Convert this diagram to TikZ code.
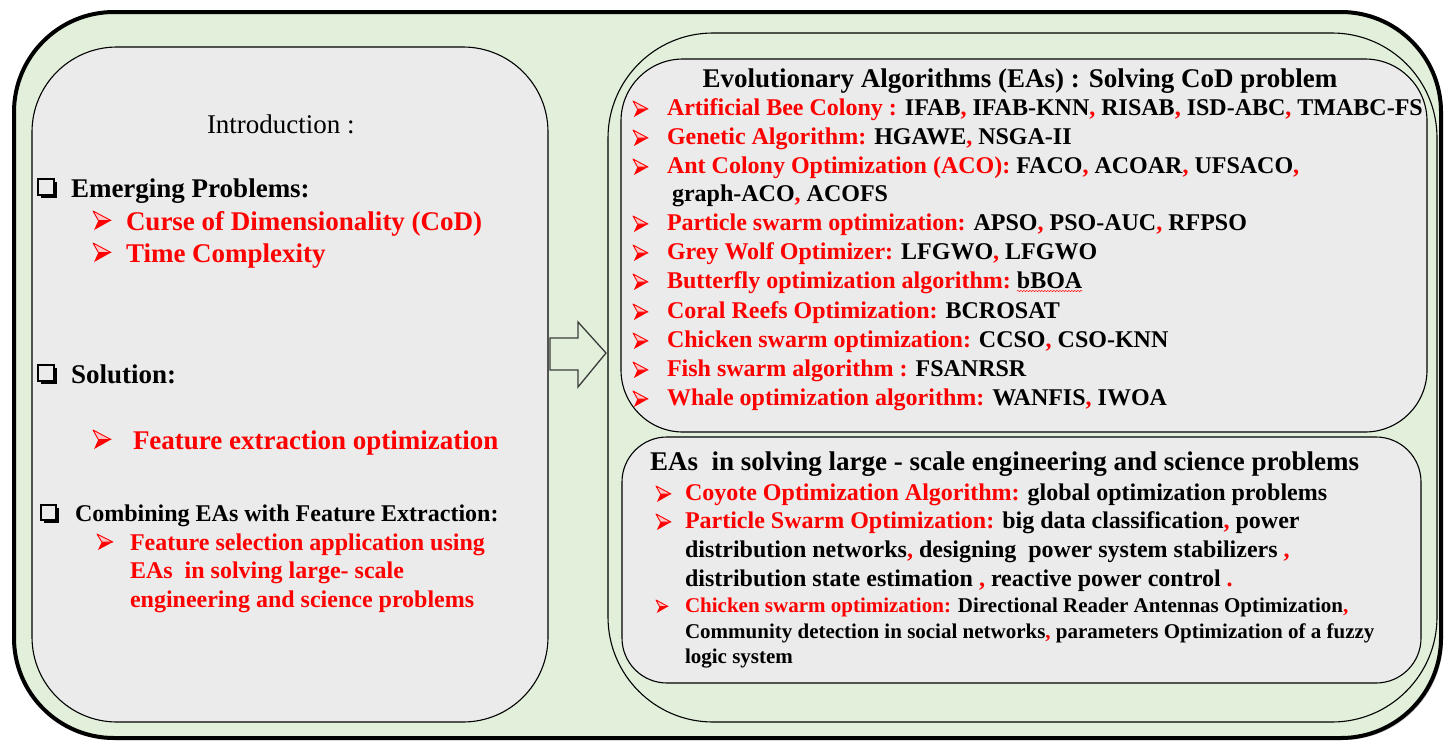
\documentclass[tikz,border=0pt]{standalone}
\usepackage{fontspec}
\setmainfont{Liberation Serif}
\usetikzlibrary{shadows,decorations.pathmorphing}

\definecolor{panelgreen}{HTML}{E2EFDA}
\definecolor{panelgray}{HTML}{EBEBEB}
\definecolor{hlred}{HTML}{FF0000}
\definecolor{arrowline}{HTML}{3A3A3A}

\newcommand\fsz[1]{\fontsize{#1}{#1}\selectfont}
\newcommand\rc[1]{\textcolor{hlred}{#1}}
\newcommand\cm{\textcolor{hlred}{,}}

% 3D arrowhead bullet: name, left x, top y, width, height
\newcommand\arrowbullet[5]{%
  \coordinate (#1) at (#2,#3);
  \begin{scope}[shift={(#1)}, x=#4pt, y=-#5pt]
    \fill[hlred] (0.30,0.5) -- (1,0.5) -- (0.06,1) -- cycle;
    \filldraw[draw=hlred, fill=hlred!22, line width=0.9pt, line join=round]
      (0,0) -- (1,0.5) -- (0.30,0.5) -- cycle;
  \end{scope}}

% shadowed check box: name, left x, top y, side
\newcommand\shadowbox[4]{%
  \coordinate (#1) at (#2,#3);
  \begin{scope}[shift={(#1)}]
    \fill[black] (2.5,2.5) rectangle (#4+2.5,#4+2.5);
    \filldraw[draw=black, fill=panelgray, line width=1.1pt] (0,0) rectangle (#4,#4);
  \end{scope}}

\tikzset{
  panel/.style={draw=black, line width=1.1pt, inner sep=0pt, outer sep=0pt},
  txt/.style={anchor=base west, inner sep=0pt, outer sep=0pt, text=black},
  big/.style={txt, font=\fsz{27}\bfseries},
  mid/.style={txt, font=\fsz{24}\bfseries},
  small/.style={txt, font=\fsz{21}\bfseries},
  plain/.style={txt, font=\fsz{27}},
  red/.style={text=hlred},
}

\begin{document}
\begin{tikzpicture}[x=1pt, y=-1pt]
\useasboundingbox (0,0) rectangle (1445,742);

% frame
\node[panel, line width=4pt, fill=panelgreen, rounded corners=100pt,
      minimum width=1427pt, minimum height=726pt,
      drop shadow={shadow xshift=2pt, shadow yshift=-2pt, opacity=.45}]
      (frame) at (727.5,375) {};

% left panel
\node[panel, fill=panelgray, rounded corners=85pt,
      minimum width=516pt, minimum height=675pt] (left) at (290,384.5) {};

% right container and its two panels
\node[panel, fill=panelgreen, rounded corners=105pt,
      minimum width=829pt, minimum height=689pt] (right) at (1022.5,377.5) {};
\node[panel, fill=panelgray, rounded corners=62pt,
      minimum width=806pt, minimum height=373pt] (top) at (1024,245.5) {};
\node[panel, fill=panelgray, rounded corners=45pt,
      minimum width=799pt, minimum height=246pt] (bottom) at (1021.5,560) {};

% block arrow between the panels
\draw[draw=arrowline, line width=1.3pt, fill=panelgreen, line join=miter]
  (550,338) -- (578,338) -- (578,322) -- (606,353) -- (578,387)
  -- (578,370) -- (550,370) -- cycle;

% ---- left panel text
\node[plain] (intro) at (207,133) {Introduction :};

\shadowbox{c1}{38}{179}{16}
\node[big] (emp) at (71,197) {Emerging Problems:};
\arrowbullet{a1}{93}{211}{18}{19}
\node[big, red] (cod) at (126,230) {Curse of Dimensionality (CoD)};
\arrowbullet{a2}{93}{243}{18}{19}
\node[big, red] (tc) at (126,262) {Time Complexity};

\shadowbox{c2}{38}{365}{16}
\node[big] (sol) at (71,383) {Solution:};
\arrowbullet{a3}{93}{430}{18}{19}
\node[big, red] (feo) at (133,449) {Feature extraction optimization};

\shadowbox{c3}{41}{505}{15}
\node[mid] (comb) at (75,521) {Combining EAs with Feature Extraction:};
\arrowbullet{a4}{97}{534}{16}{16}
\node[mid, red] (fs1) at (130,550) {Feature selection application using};
\node[mid, red] (fs2) at (130,578) {EAs\ \ in solving large- scale};
\node[mid, red] (fs3) at (130,607) {engineering and science problems};

% ---- upper right panel
\node[big, anchor=base] (t1) at (1020,87) {Evolutionary Algorithms (EAs) : Solving CoD problem};

\arrowbullet{b1}{633}{101}{15}{16}
\node[mid] (i1) at (667,115) {\rc{Artificial Bee Colony :} IFAB\cm{} IFAB-KNN\cm{} RISAB\cm{} ISD-ABC\cm{} TMABC-FS};
\arrowbullet{b2}{633}{130}{15}{16}
\node[mid] (i2) at (667,144) {\rc{Genetic Algorithm:} HGAWE\cm{} NSGA-II};
\arrowbullet{b3}{633}{159}{15}{16}
\node[mid] (i3) at (667,173) {\rc{Ant Colony Optimization (ACO):} FACO\cm{} ACOAR\cm{} UFSACO\cm};
\node[mid] (i3b) at (672,201) {graph-ACO\cm{} ACOFS};
\arrowbullet{b4}{633}{216}{15}{16}
\node[mid] (i4) at (667,230) {\rc{Particle swarm optimization:} APSO\cm{} PSO-AUC\cm{} RFPSO};
\arrowbullet{b5}{633}{245}{15}{16}
\node[mid] (i5) at (667,259) {\rc{Grey Wolf Optimizer:} LFGWO\cm{} LFGWO};
\arrowbullet{b6}{633}{274}{15}{16}
\node[mid, red] (i6) at (667,288) {Butterfly optimization algorithm:};
\node[mid] (bboa) at ([xshift=6pt]i6.base east) {bBOA};
\draw[hlred, line width=0.5pt, decorate,
      decoration={snake, amplitude=0.7pt, segment length=3pt}]
  ([yshift=-3pt]bboa.base west) -- ([yshift=-3pt]bboa.base east);
\arrowbullet{b7}{633}{304}{15}{16}
\node[mid] (i7) at (667,318) {\rc{Coral Reefs Optimization:} BCROSAT};
\arrowbullet{b8}{633}{333}{15}{16}
\node[mid] (i8) at (667,347) {\rc{Chicken swarm optimization:} CCSO\cm{} CSO-KNN};
\arrowbullet{b9}{633}{362}{15}{16}
\node[mid] (i9) at (667,376) {\rc{Fish swarm algorithm :} FSANRSR};
\arrowbullet{b10}{633}{391}{15}{16}
\node[mid] (i10) at (667,405) {\rc{Whale optimization algorithm:} WANFIS\cm{} IWOA};

% ---- lower right panel
\node[big] (t2) at (650,470) {EAs\ \ in solving large - scale engineering and science problems};

\arrowbullet{d1}{656}{486}{15}{16}
\node[mid] (e1) at (685,500) {\rc{Coyote Optimization Algorithm:} global optimization problems};
\arrowbullet{d2}{656}{514}{15}{16}
\node[mid] (e2) at (685,528) {\rc{Particle Swarm Optimization:} big data classification\cm{} power};
\node[mid] (e2b) at (685,557) {distribution networks\cm{} designing\ \ power system stabilizers \rc{,}};
\node[mid] (e2c) at (685,586) {distribution state estimation \rc{,} reactive power control \rc{.}};
\arrowbullet{d3}{656}{600}{12}{13}
\node[small] (e3) at (685,612) {\rc{Chicken swarm optimization:} Directional Reader Antennas Optimization\cm};
\node[small] (e3b) at (685,638) {Community detection in social networks\cm{} parameters Optimization of a fuzzy};
\node[small] (e3c) at (685,663) {logic system};

\end{tikzpicture}
\end{document}
